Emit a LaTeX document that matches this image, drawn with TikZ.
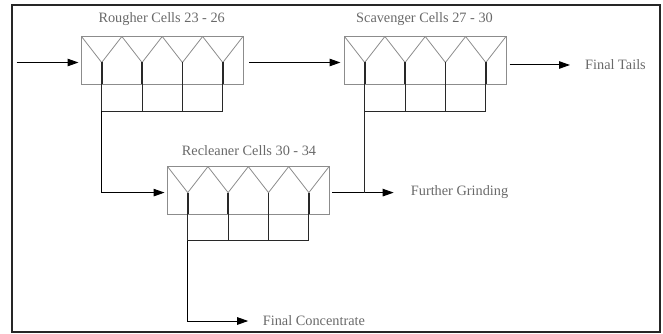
\documentclass[tikz,border=0pt]{standalone}
\usepackage{fontspec}
\setmainfont{Liberation Serif}
\usetikzlibrary{positioning,calc}
\usetikzlibrary{arrows.meta}
\definecolor{LineGray}{RGB}{140,140,140}
\definecolor{InkGray}{RGB}{105,105,105}
\definecolor{PipeBlack}{RGB}{40,40,40}
\tikzset{
  bank/.style={draw=LineGray,line width=0.8pt,minimum width=161.5pt,minimum height=47.5pt,
    inner sep=0pt,outer sep=0pt},
  vee/.style={draw=LineGray,line width=0.8pt},
  tag/.style={text=InkGray,font=\fontsize{14.3}{16}\selectfont,inner sep=0pt},
  flow/.style={draw=black,line width=1pt,-{Triangle[length=11pt,width=7.5pt]}},
  drop/.style={draw=PipeBlack,line width=1.7pt},
  pipe/.style={draw=PipeBlack,line width=0.9pt},
}

\begin{document}
\begin{tikzpicture}[x=1pt,y=-1pt]
\useasboundingbox (0,0) rectangle (663,334);
\draw[line width=1.6pt,draw=black!85] (11.7,5) rectangle (660,331.7);
% cell banks
\node[bank] (rough) at (162.25,60.25) {};
\node[bank] (scav) at (425.25,60.25) {};
\node[bank] (recl) at (248.3,190.35) {};
\node[tag] (roughlbl) at (161.7,19) {Rougher Cells 23 - 26};
\node[tag] (scavlbl) at (424.5,19) {Scavenger Cells 27 - 30};
\node[tag] (recllbl) at (249,151) {Recleaner Cells 30 - 34};
\node[tag,anchor=west] (tails) at (585,65) {Final Tails};
\node[tag,anchor=west] (grind) at (410.7,192) {Further Grinding};
\node[tag,anchor=west] (conc) at (262.7,321) {Final Concentrate};
% collector levels
\coordinate (roughcol) at (0,111);
\coordinate (scavcol) at (0,111);
\coordinate (reclcol) at (0,240.5);
\coordinate (feed) at (16.7,62.5);
% vees, drops and collectors
\foreach \b in {rough,scav,recl}{
  \foreach \i in {1,...,4}{
    \coordinate (\b-\i) at ($(\b.north west)+(40.375*\i-20.19,26)$);
    \draw[vee] ($(\b.north west)+(40.375*\i-40.375,0)$) -- (\b-\i)
      -- ($(\b.north west)+(40.375*\i,0)$);
    \draw[drop] (\b-\i) -- (\b-\i |- \b.south);
    \draw[pipe] (\b-\i |- \b.south) -- (\b-\i |- \b col);
  }
  \draw[pipe] (\b-1 |- \b col) -- (\b-4 |- \b col);
}
% flows
\draw[flow,shorten >=3pt] (feed) -- (feed -| rough.west);
\draw[flow,shorten >=4pt] ([xshift=6pt]rough.east |- rough-1) -- (scav.west |- rough-1);
\draw[flow,shorten >=15pt] ([xshift=3.5pt]scav.east |- tails) -- (tails.west);
\draw[flow,shorten >=3pt] (rough-1 |- roughcol) |- (recl.west |- recl-1);
\draw[flow,shorten >=17pt] ([xshift=3pt]recl.east |- recl-1) -- (grind.west |- recl-1);
\draw[pipe] (scav-1 |- scavcol) -- (scav-1 |- recl-1);
\draw[flow,shorten >=14.5pt] (recl-1 |- reclcol) |- (conc.west);
\end{tikzpicture}
\end{document}
